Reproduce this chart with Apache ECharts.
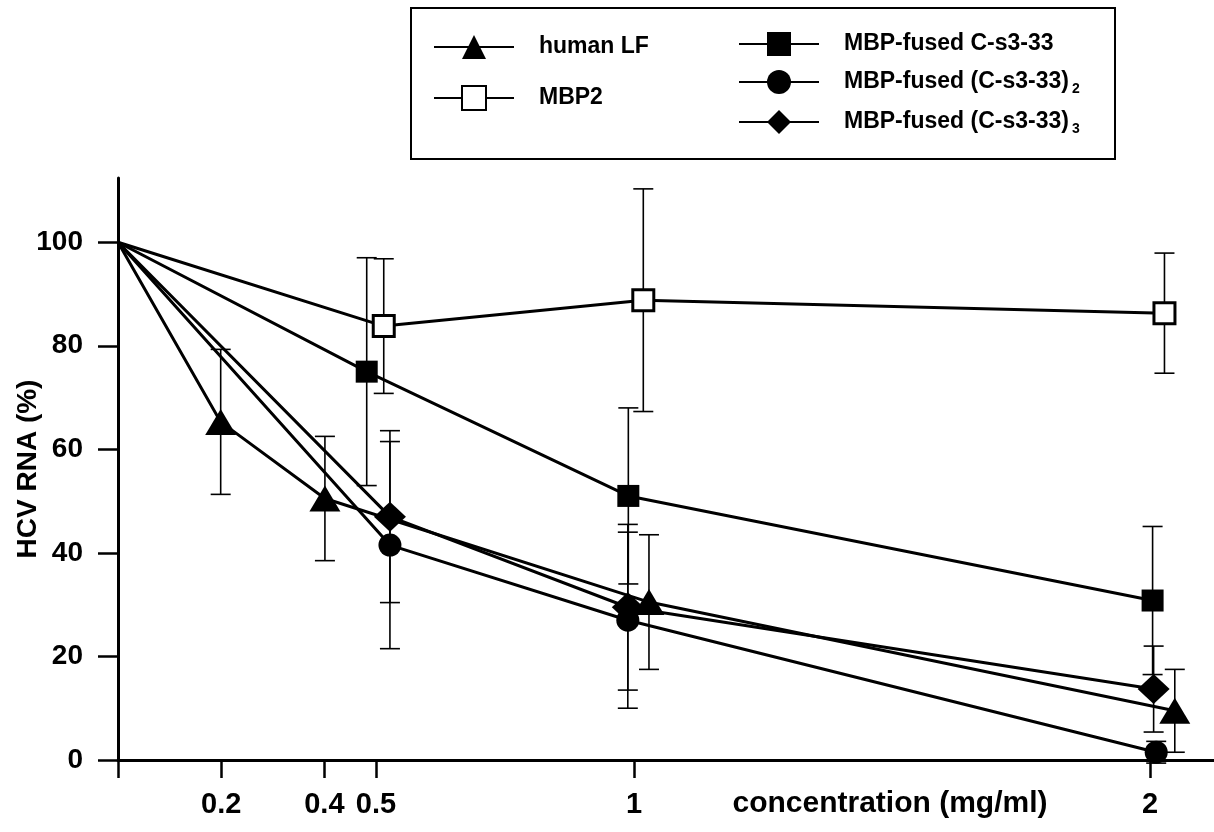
<!DOCTYPE html>
<html>
<head>
<meta charset="utf-8">
<script src="https://cdn.jsdelivr.net/npm/echarts@6/dist/echarts.min.js"></script>
<style>
  html, body { margin: 0; padding: 0; background: #fff; }
  #main { width: 1214px; height: 832px; }
</style>
</head>
<body>
<div id="main"></div>
<script>
var chart = echarts.init(document.getElementById('main'));

// tick positions (mg/ml) and y ticks
var xTicks = [0, 0.2, 0.4, 0.5, 1, 2];
var xLabels = [0.2, 0.4, 0.5, 1, 2];
var yTicks = [0, 20, 40, 60, 80, 100];

// human LF
var lfX = [0, 0.199, 0.401, 1.029, 2.048];
var lfY = [100, 65.3, 50.5, 30.5, 9.5];
var lfErr = [0, 14, 12, 13, 8];

// MBP2
var mbpX = [0, 0.515, 1.018, 2.028];
var mbpY = [100, 83.8, 88.8, 86.3];
var mbpErr = [0, 13, 21.5, 11.6];

// MBP-fused C-s3-33
var c1X = [0, 0.482, 0.989, 2.005];
var c1Y = [100, 75, 51, 30.8];
var c1Err = [0, 22, 17, 14.3];

// MBP-fused (C-s3-33)2
var c2X = [0, 0.527, 0.988, 2.012];
var c2Y = [100, 41.5, 27, 1.5];
var c2Err = [0, 20, 17, 2.1];

// MBP-fused (C-s3-33)3
var c3X = [0, 0.527, 0.988, 2.007];
var c3Y = [100, 47, 29.5, 13.7];
var c3Err = [0, 16.6, 16, 8.3];

var FONT = 'Liberation Sans, Arial, sans-serif';

// first point (control, 100%) is drawn without a marker
function pts(xs, ys) {
    return xs.map(function (x, i) {
        return i === 0 ? { value: [x, ys[i]], symbol: 'none' } : [x, ys[i]];
    });
}
function errs(xs, ys, es) {
    var out = [];
    xs.forEach(function (x, i) {
        if (es[i] > 0) out.push([x, ys[i] - es[i], ys[i] + es[i]]);
    });
    return out;
}

function renderErr(params, api) {
    var lo = api.coord([api.value(0), api.value(1)]);
    var hi = api.coord([api.value(0), api.value(2)]);
    var w = 10;
    var st = { stroke: '#000', lineWidth: 1.6 };
    return {
        type: 'group',
        children: [
            { type: 'line', shape: { x1: lo[0], y1: lo[1], x2: hi[0], y2: hi[1] }, style: st },
            { type: 'line', shape: { x1: lo[0] - w, y1: lo[1], x2: lo[0] + w, y2: lo[1] }, style: st },
            { type: 'line', shape: { x1: hi[0] - w, y1: hi[1], x2: hi[0] + w, y2: hi[1] }, style: st }
        ]
    };
}

function errSeries(xs, ys, es) {
    return {
        type: 'custom',
        renderItem: renderErr,
        data: errs(xs, ys, es),
        clip: false,
        z: 1,
        silent: true
    };
}

var lineStyle = { color: '#000', width: 3 };

var subLabels = {
    'MBP-fused (C-s3-33)2': 'MBP-fused (C-s3-33){sub|2}',
    'MBP-fused (C-s3-33)3': 'MBP-fused (C-s3-33){sub|3}'
};

var legendText = {
    color: '#000',
    fontFamily: FONT,
    fontWeight: 'bold',
    fontSize: 23,
    rich: {
        sub: { fontFamily: FONT, fontWeight: 'bold', fontSize: 14, color: '#000', padding: [14, 0, 0, 3] }
    }
};

var option = {
    animation: false,
    backgroundColor: '#fff',
    graphic: [{
        type: 'rect',
        shape: { x: 411, y: 8, width: 704, height: 151 },
        style: { fill: 'none', stroke: '#000', lineWidth: 2 }
    }],
    legend: [{
        orient: 'vertical',
        left: 428,
        top: 30,
        itemWidth: 80,
        itemHeight: 30,
        itemGap: 26,
        data: ['human LF', 'MBP2'],
        textStyle: Object.assign({ padding: [0, 0, 0, 20] }, legendText)
    }, {
        orient: 'vertical',
        left: 733,
        top: 27,
        itemWidth: 80,
        itemHeight: 30,
        itemGap: 14,
        data: ['MBP-fused C-s3-33', 'MBP-fused (C-s3-33)2', 'MBP-fused (C-s3-33)3'],
        formatter: function (name) { return subLabels[name] || name; },
        textStyle: Object.assign({ padding: [0, 0, 0, 20] }, legendText)
    }],
    grid: { left: 118, right: 0, top: 178, bottom: 72, containLabel: false, outerBoundsMode: 'none' },
    xAxis: {
        type: 'value',
        min: 0,
        max: 2.124,
        name: 'concentration (mg/ml)',
        nameLocation: 'middle',
        nameGap: 29,
        nameMoveOverlap: false,
        nameTextStyle: {
            color: '#000', fontFamily: FONT, fontWeight: 'bold', fontSize: 30,
            padding: [0, 0, 0, 448]
        },
        axisLine: { onZero: false, lineStyle: { color: '#000', width: 3 } },
        axisTick: { show: true, length: 18, lineStyle: { color: '#000', width: 2.5 }, customValues: xTicks },
        axisLabel: {
            color: '#000', fontFamily: FONT, fontWeight: 'bold', fontSize: 29,
            margin: 30, customValues: xLabels
        },
        splitLine: { show: false }
    },
    yAxis: {
        type: 'value',
        min: 0,
        max: 112.4,
        name: 'HCV RNA (%)',
        nameLocation: 'middle',
        nameGap: 76,
        nameMoveOverlap: false,
        nameTextStyle: { color: '#000', fontFamily: FONT, fontWeight: 'bold', fontSize: 28 },
        axisLine: { lineStyle: { color: '#000', width: 3 } },
        axisTick: { show: true, length: 20, lineStyle: { color: '#000', width: 2.5 }, customValues: yTicks },
        axisLabel: {
            color: '#000', fontFamily: FONT, fontWeight: 'bold', fontSize: 28,
            margin: 35, customValues: yTicks
        },
        splitLine: { show: false }
    },
    series: [
        errSeries(lfX, lfY, lfErr),
        errSeries(mbpX, mbpY, mbpErr),
        errSeries(c1X, c1Y, c1Err),
        errSeries(c2X, c2Y, c2Err),
        errSeries(c3X, c3Y, c3Err),
        {
            name: 'human LF', type: 'line', data: pts(lfX, lfY),
            symbol: 'triangle', symbolSize: [31, 26], z: 3,
            lineStyle: lineStyle, itemStyle: { color: '#000' }
        },
        {
            name: 'MBP2', type: 'line', data: pts(mbpX, mbpY),
            symbol: 'rect', symbolSize: 21, z: 3,
            lineStyle: lineStyle,
            itemStyle: { color: '#fff', borderColor: '#000', borderWidth: 3 }
        },
        {
            name: 'MBP-fused C-s3-33', type: 'line', data: pts(c1X, c1Y),
            symbol: 'rect', symbolSize: 22, z: 3,
            lineStyle: lineStyle, itemStyle: { color: '#000' }
        },
        {
            name: 'MBP-fused (C-s3-33)2', type: 'line', data: pts(c2X, c2Y),
            symbol: 'circle', symbolSize: 23, z: 3,
            lineStyle: lineStyle, itemStyle: { color: '#000' }
        },
        {
            name: 'MBP-fused (C-s3-33)3', type: 'line', data: pts(c3X, c3Y),
            symbol: 'diamond', symbolSize: [32, 30], z: 3,
            lineStyle: lineStyle, itemStyle: { color: '#000' }
        }
    ]
};

chart.setOption(option);
</script>
</body>
</html>
